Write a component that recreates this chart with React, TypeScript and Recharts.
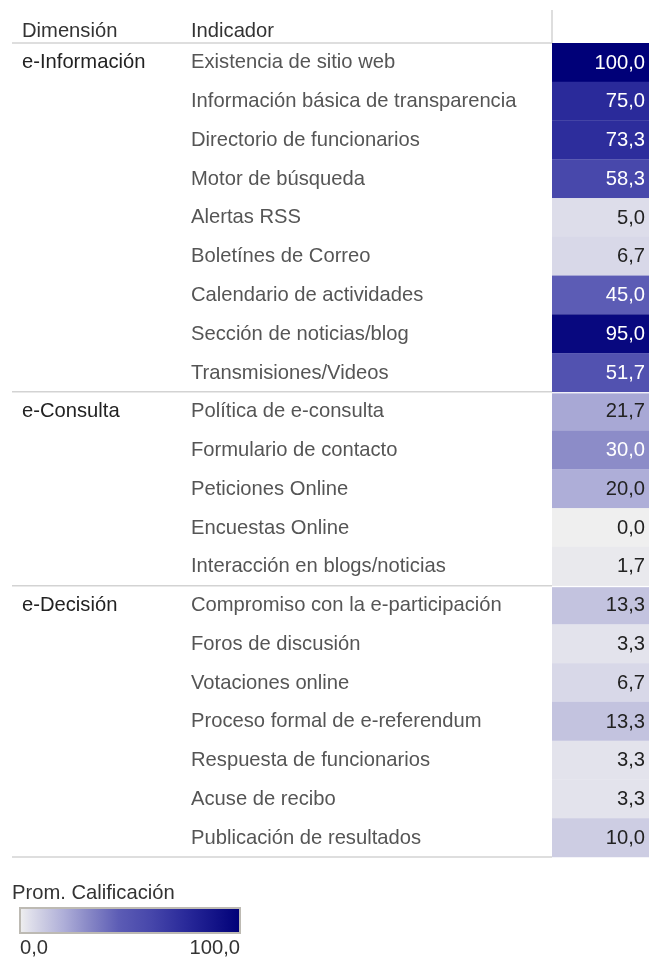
import { BarChart, Bar, XAxis, YAxis, LabelList } from "recharts";

const dimensiones = ["e-Información", "e-Consulta", "e-Decisión"];
const filasPorDimension = [9, 5, 7];

const indicadores = [
  "Existencia de sitio web",
  "Información básica de transparencia",
  "Directorio de funcionarios",
  "Motor de búsqueda",
  "Alertas RSS",
  "Boletínes de Correo",
  "Calendario de actividades",
  "Sección de noticias/blog",
  "Transmisiones/Videos",
  "Política de e-consulta",
  "Formulario de contacto",
  "Peticiones Online",
  "Encuestas Online",
  "Interacción en blogs/noticias",
  "Compromiso con la e-participación",
  "Foros de discusión",
  "Votaciones online",
  "Proceso formal de e-referendum",
  "Respuesta de funcionarios",
  "Acuse de recibo",
  "Publicación de resultados",
];

const calificacion = [
  100.0, 75.0, 73.3, 58.3, 5.0, 6.7, 45.0, 95.0, 51.7,
  21.7, 30.0, 20.0, 0.0, 1.7,
  13.3, 3.3, 6.7, 13.3, 3.3, 3.3, 10.0,
];

// colour ramp (light grey -> navy), roughly like the Tableau one
const rampa: [number, number[]][] = [
  [0, [239, 239, 239]],
  [0.05, [221, 221, 234]],
  [0.1, [205, 205, 227]],
  [0.2, [174, 174, 216]],
  [0.3, [140, 140, 200]],
  [0.45, [92, 92, 181]],
  [0.6, [70, 70, 170]],
  [0.75, [42, 42, 154]],
  [1, [0, 0, 120]],
];

function colorDe(v: number) {
  const t = v / 100;
  for (let i = 1; i < rampa.length; i++) {
    const [t1, c1] = rampa[i];
    const [t0, c0] = rampa[i - 1];
    if (t <= t1) {
      const f = (t - t0) / (t1 - t0);
      const c = c0.map((a, k) => Math.round(a + (c1[k] - a) * f));
      return `rgb(${c[0]},${c[1]},${c[2]})`;
    }
  }
  return "rgb(0,0,120)";
}

const inicioGrupo: number[] = [];
const dimFila: string[] = [];
filasPorDimension.forEach((n, g) => {
  inicioGrupo.push(dimFila.length);
  for (let i = 0; i < n; i++) dimFila.push(dimensiones[g]);
});

const data = indicadores.map((ind, i) => ({
  indicador: ind,
  dimension: dimFila[i],
  valor: calificacion[i],
  celda: 1,
}));

const fmt = (v: number) => v.toFixed(1).replace(".", ",");

const FONT = "Liberation Sans, Arial, sans-serif";
const FS = 20.2;
const LINEA = "#d3d3d3";
const TOP = 43;
const ALTO_PLOT = 814;
const BANDA = ALTO_PLOT / indicadores.length;
const COL = 552;

function Tick(props: any) {
  const { y, index } = props;
  const top = y - BANDA / 2;
  const esInicio = inicioGrupo.includes(index);
  const esUltimo = index === indicadores.length - 1;
  return (
    <g>
      {esInicio && <line x1={12} x2={COL} y1={top} y2={top} stroke={LINEA} strokeWidth={1.5} />}
      {esUltimo && (
        <line x1={12} x2={COL} y1={top + BANDA} y2={top + BANDA} stroke={LINEA} strokeWidth={1.5} />
      )}
      {esInicio && (
        <text x={22} y={y - 1} dy="0.35em" fontSize={FS} fill="#222" fontFamily={FONT}>
          {dimFila[index]}
        </text>
      )}
      <text x={191} y={y - 1} dy="0.35em" fontSize={FS} fill="#555" fontFamily={FONT}>
        {indicadores[index]}
      </text>
    </g>
  );
}

function Celda(props: any) {
  const { x, y, width, height, index } = props;
  const v = calificacion[index];
  const gap = inicioGrupo.includes(index) && index > 0 ? 1.5 : 0;
  return <rect x={x} y={y + gap} width={width} height={height - gap} fill={colorDe(v)} />;
}

function Etiqueta(props: any) {
  const { x, y, width, height, index } = props;
  const v = calificacion[index];
  return (
    <text
      x={x + width - 4}
      y={y + height / 2 - 1}
      dy="0.35em"
      textAnchor="end"
      fontSize={FS}
      fontFamily={FONT}
      fill={v >= 30 ? "#ffffff" : "#222"}
    >
      {fmt(v)}
    </text>
  );
}

export default function App() {
  return (
    <div style={{ position: "fixed", left: 0, top: 0, width: 649, height: 959, fontFamily: FONT }}>
      <svg style={{ position: "absolute", left: 0, top: 0 }} width={649} height={43}>
        <line x1={COL} x2={COL} y1={10} y2={43} stroke={LINEA} strokeWidth={1.5} />
        <text x={22} y={30} dy="0.35em" fontSize={FS} fill="#333" fontFamily={FONT}>
          Dimensión
        </text>
        <text x={191} y={30} dy="0.35em" fontSize={FS} fill="#333" fontFamily={FONT}>
          Indicador
        </text>
      </svg>
      <div style={{ position: "absolute", left: 0, top: 0 }}>
        <BarChart
          width={649}
          height={TOP + ALTO_PLOT + 4}
          data={data}
          layout="vertical"
          margin={{ top: TOP, right: 0, bottom: 4, left: 0 }}
          barCategoryGap={0}
        >
          <XAxis type="number" domain={[0, 1]} hide />
          <YAxis
            type="category"
            dataKey="indicador"
            width={COL}
            interval={0}
            tickLine={false}
            axisLine={false}
            tick={<Tick />}
          />
          <Bar dataKey="celda" isAnimationActive={false} shape={<Celda />}>
            <LabelList dataKey="valor" content={<Etiqueta />} />
          </Bar>
        </BarChart>
      </div>
      <svg style={{ position: "absolute", left: 0, top: 870 }} width={260} height={89}>
        <defs>
          <linearGradient id="leyenda" x1="0" x2="1" y1="0" y2="0">
            {rampa.map(([t, c]) => (
              <stop key={t} offset={t} stopColor={`rgb(${c[0]},${c[1]},${c[2]})`} />
            ))}
          </linearGradient>
        </defs>
        <text x={12} y={22} dy="0.35em" fontSize={FS} fill="#333" fontFamily={FONT}>
          Prom. Calificación
        </text>
        <rect x={20} y={38} width={220} height={25} fill="url(#leyenda)" stroke="#bdbab3" strokeWidth={2} />
        <text x={20} y={77} dy="0.35em" fontSize={FS} fill="#333" fontFamily={FONT}>
          0,0
        </text>
        <text x={240} y={77} dy="0.35em" textAnchor="end" fontSize={FS} fill="#333" fontFamily={FONT}>
          100,0
        </text>
      </svg>
    </div>
  );
}
